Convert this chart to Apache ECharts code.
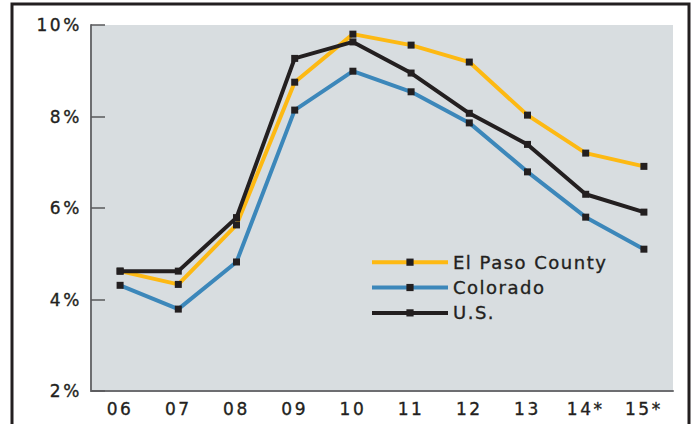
<!DOCTYPE html>
<html><head><meta charset="utf-8">
<script src="https://cdn.jsdelivr.net/npm/echarts@6/dist/echarts.min.js"></script>
<style>html,body{margin:0;padding:0;background:#fff}#c{width:694px;height:424px}</style>
</head><body><div id="c"></div>
<script>
var categories = ['06','07','08','09','10','11','12','13','14*','15*'];
var elPaso   = [4.62, 4.33, 5.63, 8.75, 9.80, 9.56, 9.19, 8.03, 7.20, 6.91];
var colorado = [4.31, 3.79, 4.82, 8.14, 8.99, 8.54, 7.86, 6.79, 5.80, 5.10];
var us       = [4.62, 4.62, 5.79, 9.27, 9.63, 8.95, 8.07, 7.39, 6.30, 5.91];
var seriesNames = ['El Paso County', 'Colorado', 'U.S.'];
var seriesColors = ['#FDB913', '#3C87BA', '#231F20'];
var yTicks = {min: 2, max: 10, interval: 2};

var chart = echarts.init(document.getElementById('c'), null, {renderer: 'svg'});
var txt = '#231F20';
var font = 'DejaVu Sans';
function mk(name, data, color) {
  return {
    name: name, type: 'line', data: data,
    symbol: 'rect', symbolSize: 7,
    itemStyle: {color: '#231F20'},
    lineStyle: {color: color, width: 4},
    z: 3
  };
}
var tBorder = {textBorderColor: '#231F20', textBorderWidth: 0.35};
chart.setOption({
  animation: false,
  graphic: [{
    type: 'rect', shape: {x: 12, y: 4, width: 677, height: 440},
    style: {fill: 'none', stroke: '#231F20', lineWidth: 3}, z: 100
  }],
  grid: {left: 91, top: 25, width: 582, height: 366, show: true,
         backgroundColor: '#D8DDE0', borderWidth: 0},
  legend: {
    orient: 'vertical', left: 365, top: 248,
    itemWidth: 76, itemHeight: 9, itemGap: 7,
    textStyle: Object.assign({color: txt, fontSize: 18, fontFamily: font}, tBorder),
    data: seriesNames.map(function(n, i){
      return {name: n, itemStyle: {color: '#231F20'}, lineStyle: {color: seriesColors[i], width: 4}};
    })
  },
  xAxis: {
    type: 'category', data: categories, boundaryGap: true,
    axisLine: {lineStyle: {color: '#6D6E71', width: 2}},
    axisTick: {inside: true, length: 9, lineStyle: {color: '#58595B', width: 1.5}},
    axisLabel: Object.assign({color: txt, fontSize: 17, fontFamily: font, margin: 9}, tBorder)
  },
  yAxis: {
    type: 'value', min: yTicks.min, max: yTicks.max, interval: yTicks.interval,
    axisLine: {show: true, lineStyle: {color: '#6D6E71', width: 2}},
    axisTick: {show: true, inside: true, length: 14, lineStyle: {color: '#58595B', width: 1.5}},
    splitLine: {show: false},
    axisLabel: Object.assign({color: txt, fontSize: 17, fontFamily: font, margin: 9,
                formatter: '{value}%'}, tBorder)
  },
  series: [
    mk(seriesNames[0], elPaso, seriesColors[0]),
    mk(seriesNames[1], colorado, seriesColors[1]),
    mk(seriesNames[2], us, seriesColors[2])
  ]
});
var texts = document.querySelectorAll('#c svg text');
for (var i = 0; i < texts.length; i++) {
  var t = texts[i];
  var isLegend = seriesNames.indexOf(t.textContent) >= 0;
  t.setAttribute('letter-spacing', isLegend ? '1.5px' : '2.6px');
}
</script></body></html>
